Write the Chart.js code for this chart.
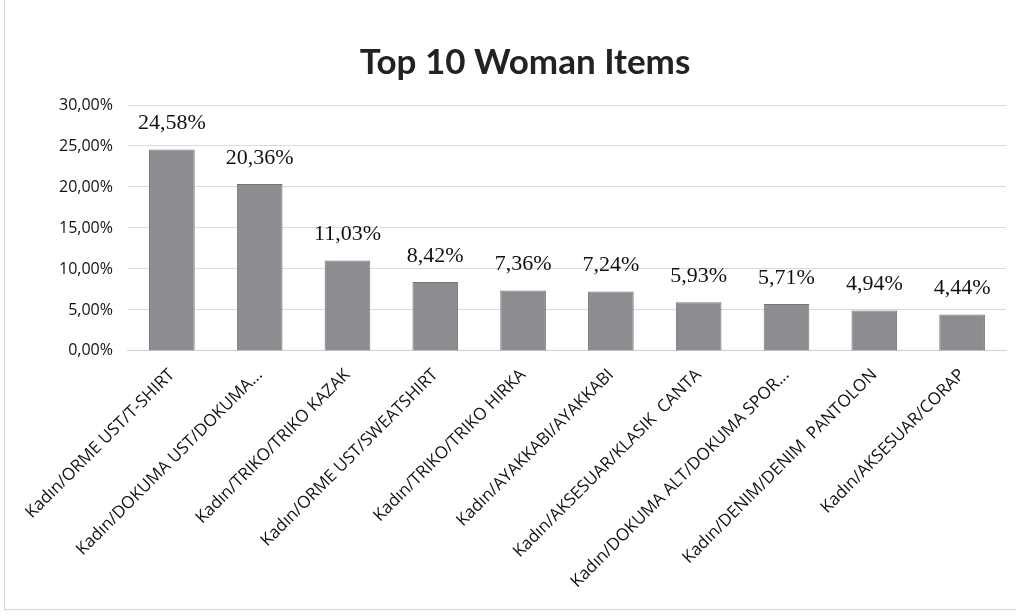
<!DOCTYPE html>
<html>
<head>
<meta charset="utf-8">
<script src="https://cdn.jsdelivr.net/npm/chart.js@4"></script>
<style>
  html, body { margin: 0; padding: 0; background: #fff; }
  #wrap { width: 1016px; height: 615px; position: relative; }
  #frame { position: absolute; left: 4px; top: -2px; width: 1030px; height: 612px; border: 1px solid #d4d4d4; box-sizing: border-box; }
</style>
</head>
<body>
<div id="wrap">
  <div id="frame"></div>
  <canvas id="chart" width="1016" height="615"></canvas>
</div>
<script>
  // dados do gráfico
  const categories = [
    'Kadın/ORME UST/T-SHIRT',
    'Kadın/DOKUMA UST/DOKUMA...',
    'Kadın/TRIKO/TRIKO KAZAK',
    'Kadın/ORME UST/SWEATSHIRT',
    'Kadın/TRIKO/TRIKO HIRKA',
    'Kadın/AYAKKABI/AYAKKABI',
    'Kadın/AKSESUAR/KLASIK  CANTA',
    'Kadın/DOKUMA ALT/DOKUMA SPOR...',
    'Kadın/DENIM/DENIM  PANTOLON',
    'Kadın/AKSESUAR/CORAP'
  ];
  const shares = [24.58, 20.36, 11.03, 8.42, 7.36, 7.24, 5.93, 5.71, 4.94, 4.44];
  const yTicks = [0, 5, 10, 15, 20, 25, 30];

  // formata número no padrão turco: 24,58%
  function fmt(v){ return v.toFixed(2).replace('.', ',') + '%'; }

  // plugin simples pra escrever os valores em cima das barras
  const valueLabels = {
    id: 'valueLabels',
    afterDatasetsDraw(chart){
      const ctx = chart.ctx;
      const meta = chart.getDatasetMeta(0);
      ctx.save();
      ctx.font = '22px "Liberation Serif", "Times New Roman", serif';
      ctx.fillStyle = '#111';
      ctx.textAlign = 'center';
      ctx.textBaseline = 'bottom';
      meta.data.forEach((bar, i) => {
        ctx.fillText(fmt(shares[i]), bar.x, bar.y - 15);
      });
      ctx.restore();
    }
  };

  new Chart(document.getElementById('chart'), {
    type: 'bar',
    data: {
      labels: categories,
      datasets: [{
        data: shares,
        backgroundColor: '#8c8d91',
        borderColor: '#727376',
        borderWidth: 1,
        categoryPercentage: 1,
        barPercentage: 0.52
      }]
    },
    options: {
      responsive: false,
      animation: false,
      layout: { padding: { left: 44, right: 10, top: 42, bottom: 17 } },
      plugins: {
        legend: { display: false },
        tooltip: { enabled: false },
        title: {
          display: true,
          text: 'Top 10 Woman Items',
          color: '#222',
          font: { family: 'Lato, "Open Sans", sans-serif', size: 35, weight: 'bold' },
          padding: { top: 0, bottom: 21 }
        }
      },
      scales: {
        x: {
          grid: { display: false },
          border: { color: '#d0d0d0' },
          ticks: {
            color: '#111',
            font: { family: '"Open Sans", Lato, sans-serif', size: 17 },
            minRotation: 45,
            maxRotation: 45,
            autoSkip: false,
            padding: 6
          }
        },
        y: {
          min: 0,
          max: 30,
          afterBuildTicks(scale){ scale.ticks = yTicks.map(v => ({ value: v })); },
          grid: { color: '#dadada', drawTicks: false },
          border: { display: false },
          ticks: {
            color: '#111',
            padding: 15,
            font: { family: '"Open Sans", Lato, sans-serif', size: 16 },
            callback: v => fmt(v)
          }
        }
      }
    },
    plugins: [valueLabels]
  });
</script>
</body>
</html>
